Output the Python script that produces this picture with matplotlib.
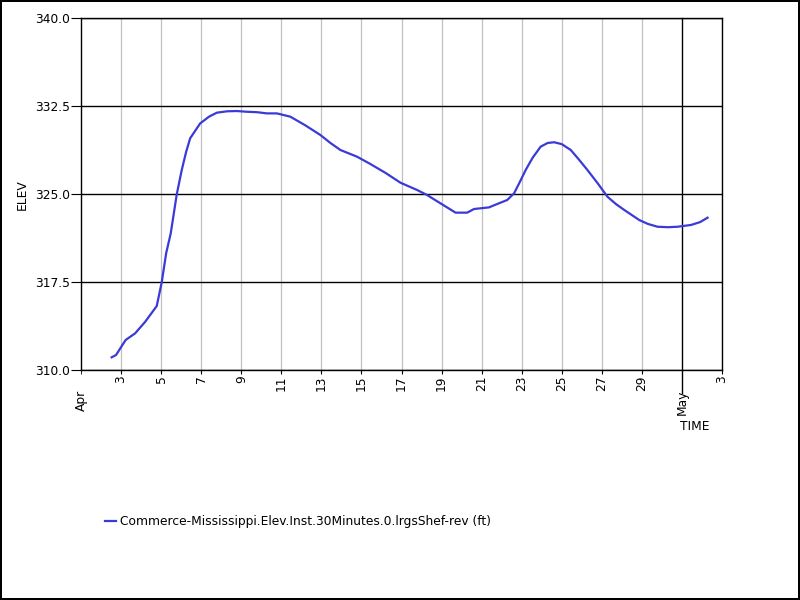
import matplotlib
matplotlib.use("Agg")
import matplotlib.pyplot as plt
import pandas as pd

# day of April (fractional; 31 = May 1) and elevation in ft
day = [2.53, 2.75, 3.0, 3.23, 3.7, 4.2, 4.78, 5.03, 5.25, 5.48, 5.78, 6.03, 6.25,
       6.45, 6.95, 7.4, 7.78, 8.3, 8.78, 9.28, 9.8, 10.28, 10.78, 11.45, 12.2,
       12.95, 13.45, 13.95, 14.78, 15.4, 16.2, 16.95, 17.78, 18.28, 18.95, 19.7,
       20.28, 20.62, 21.37, 21.78, 22.28, 22.62, 22.9, 23.2, 23.55, 23.95, 24.3,
       24.62, 25.0, 25.45, 25.85, 26.28, 26.8, 27.28, 27.7, 28.12, 28.87, 29.3,
       29.78, 30.3, 30.78, 31.45, 31.9, 32.28]
elev = [311.08, 311.28, 311.95, 312.56, 313.12, 314.1, 315.45, 317.47, 319.94,
        321.65, 324.97, 327.05, 328.6, 329.75, 331.02, 331.6, 331.93, 332.05,
        332.07, 332.01, 331.97, 331.87, 331.87, 331.59, 330.85, 330.03, 329.35,
        328.75, 328.18, 327.6, 326.8, 325.96, 325.34, 324.91, 324.2, 323.41,
        323.41, 323.72, 323.86, 324.15, 324.49, 325.06, 326.0, 327.05, 328.1,
        329.04, 329.35, 329.41, 329.25, 328.75, 327.95, 327.05, 325.9, 324.77,
        324.15, 323.64, 322.78, 322.45, 322.21, 322.17, 322.21, 322.36, 322.6,
        322.98]

series_name = "Commerce-Mississippi.Elev.Inst.30Minutes.0.lrgsShef-rev (ft)"
yticks = [310.0, 317.5, 325.0, 332.5, 340.0]
day_labels = [3, 5, 7, 9, 11, 13, 15, 17, 19, 21, 23, 25, 27, 29, 33]
month_labels = ["Apr", "May"]

start = pd.Timestamp("2019-04-01")
times = [start + pd.Timedelta(days=d - 1) for d in day]
day_ticks = [start + pd.Timedelta(days=d - 1) for d in day_labels]
month_ticks = [pd.Timestamp("2019-04-01"), pd.Timestamp("2019-05-01")]
end = pd.Timestamp("2019-05-03")

plt.rcParams["font.family"] = ["DejaVu Sans"]
fig = plt.figure(figsize=(8, 6), dpi=100)
fig.patch.set_edgecolor("black")
fig.patch.set_linewidth(1.5)
ax = fig.add_axes([81 / 800, 1 - 370 / 600, (722 - 81) / 800, (370 - 18) / 600])

ax.plot(times, elev, color="#3a3ad8", lw=1.6, label=series_name, zorder=3)

ax.set_xlim(start, end)
ax.set_ylim(310, 340)
ax.set_yticks(yticks)
ax.set_yticklabels(["%.1f" % v for v in yticks])
ax.grid(axis="y", color="black", lw=1)

ax.set_xticks(day_ticks)
ax.set_xticklabels([str(t.day) for t in day_ticks], rotation=90, va="top")
ax.set_xticks(month_ticks, minor=True)
ax.set_xticklabels(month_labels, minor=True, rotation=90, va="top")
ax.grid(axis="x", which="major", color="#c0c0c0", lw=0.9)
ax.axvline(month_ticks[1], ymin=-0.066, ymax=1, color="black", lw=1, clip_on=False, zorder=2)

ax.tick_params(axis="y", length=7, pad=1, labelsize=8.8)
ax.tick_params(axis="x", which="major", length=3, pad=1, labelsize=8.8)
ax.tick_params(axis="x", which="minor", length=3, pad=11, labelsize=8.8)
for s in ax.spines.values():
    s.set_linewidth(1)

fig.text(22 / 800, 1 - 195 / 600, "ELEV", rotation=90, ha="center", va="center", fontsize=8.8)
fig.text(695 / 800, 1 - 426 / 600, "TIME", ha="center", va="center", fontsize=8.8)

fig.legend(loc="center left", bbox_to_anchor=(100 / 800, 1 - 522 / 600), frameon=False,
           handlelength=0.9, handletextpad=0.3, fontsize=8.8, borderaxespad=0)

fig.savefig("out.png", dpi=100, edgecolor=fig.get_edgecolor())
